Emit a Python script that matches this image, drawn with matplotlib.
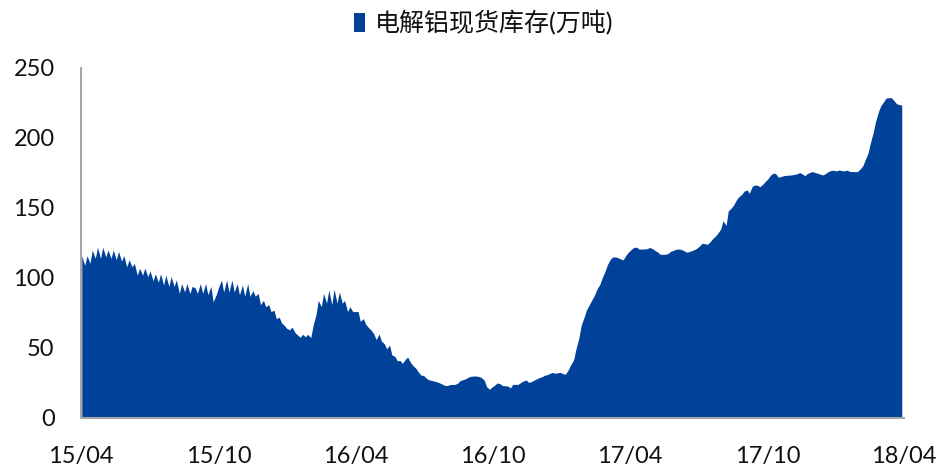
import matplotlib
matplotlib.use("Agg")
import matplotlib.pyplot as plt
import matplotlib.dates as mdates
from matplotlib.patches import Patch
import numpy as np
import pandas as pd

plt.rcParams["font.family"] = ["Lato", "Noto Sans CJK SC", "DejaVu Sans"]

# SMM spot inventory, sampled every Monday and Thursday (10k tonnes)
stock_15h1 = [
    116, 109, 116, 110.5, 120, 114, 122, 114, 122, 115, 120, 114, 120, 113,
    119, 112, 116, 108, 113, 108, 110.5, 102, 107, 102, 107, 101,
    105, 98, 103, 97, 103, 95, 102, 94, 101, 94, 98.6, 89, 96, 90, 96, 89,
    94, 93, 89, 96, 89, 96, 88, 94, 83, 88,
]
stock_15h2 = [
    93, 98.6, 90, 98.6, 90, 98.6, 90, 96, 88, 95, 87, 96, 87, 91, 87, 89,
    81, 84, 79.5, 81, 76, 77, 71, 72, 68, 66,
    64, 63, 65, 61, 59.5, 57.6, 59.8, 58, 59.8, 57.4, 66, 74, 84, 79.5, 89,
    82, 91.4, 81, 92, 82, 90, 82, 84, 76, 79.5, 76,
]
stock_16h1 = [
    76, 76, 69, 71, 67, 64.5, 63, 60, 56, 60, 55, 53, 49.5, 52, 45, 44, 41,
    41, 39, 42, 43.5, 39.5, 37.5, 35.5, 33, 30.5,
    30.5, 28.3, 27.3, 26.8, 26.4, 25.8, 25.2, 24.2, 23.3, 23.2, 23.8, 24, 24,
    25, 26.8, 27.4, 28, 29.2, 29.8, 30, 30, 29.6, 29, 27, 22.5, 20.5,
]
stock_16h2 = [
    22, 23.5, 25, 24.5, 23.2, 23, 22.9, 21.5, 24, 24, 24, 25.5, 26.4, 27.1,
    25.5, 26, 27, 28, 28.8, 29.5, 30.5, 31, 31.8, 32.6, 31.9, 32.3,
    32.6, 31.7, 31.2, 34.5, 37.9, 41.5, 49, 57, 66, 72, 77, 81, 84, 88, 92,
    95.5, 100, 105, 109.5, 113.5, 115, 115, 114.5, 113.5, 113, 116.5,
]
stock_17h1 = [
    118.5, 120.5, 121.8, 122, 120.7, 120.7, 120.7, 121, 121.8, 121, 119.8,
    118.5, 117, 116.9, 116.9, 117.5, 119, 119.8, 120.5, 120.7, 120.5, 119.5,
    118.5, 118.8, 119.5, 120.3,
    121.2, 123, 124.8, 124.5, 124, 126, 128, 130, 132, 135, 141, 137.5, 148,
    150, 152, 156, 158, 159.8, 162, 162.9, 160.5, 165.5, 166.4, 166.2, 165.2,
    167,
]
stock_17h2 = [
    168.8, 171, 173.3, 175, 174.5, 171.9, 172.5, 173.1, 173.3, 173.5, 173.6,
    174, 174.3, 175.3, 174.5, 173.1, 174.5, 175.5, 176, 175.3, 174.8, 174,
    173.6, 174.8, 176, 176.8,
    177, 176.4, 177.1, 176.8, 176.4, 177.1, 176.2, 176, 176, 176, 177.5, 180,
    184, 189, 196, 204, 211.5, 218.8, 223, 226, 228.5, 228.8, 228.8, 226.5,
    224.5, 223.8, 223.5,
]

series_name = "电解铝现货库存(万吨)"
y_ticks = [0, 50, 100, 150, 200, 250]
fill_color = "#00419a"
text_color = "#111111"

thursdays = pd.date_range("2015-04-02", periods=157, freq="7D")
mondays = pd.date_range("2015-04-06", periods=156, freq="7D")
dates = thursdays.union(mondays)
stock = np.concatenate([stock_15h1, stock_15h2, stock_16h1,
                        stock_16h2, stock_17h1, stock_17h2])

fig = plt.figure(figsize=(9.4, 4.67), dpi=100)
ax = fig.add_axes([81 / 940, 49 / 467, 823 / 940, 350 / 467])

ax.fill_between(dates, stock, 0, color=fill_color, linewidth=0)

ax.set_xlim(pd.Timestamp("2015-04-01"), pd.Timestamp("2018-04-01"))
ax.set_ylim(0, 250)
ax.set_yticks(y_ticks)
ax.xaxis.set_major_locator(mdates.MonthLocator(bymonth=[4, 10]))
ax.xaxis.set_major_formatter(mdates.DateFormatter("%y/%m"))

for side in ["top", "right"]:
    ax.spines[side].set_visible(False)
for side in ["left", "bottom"]:
    ax.spines[side].set_color("#a6a6a6")
    ax.spines[side].set_linewidth(1.5)

ax.tick_params(axis="both", length=0, labelsize=17, labelcolor=text_color)
ax.tick_params(axis="y", pad=19)
ax.tick_params(axis="x", pad=20)

handle = Patch(facecolor=fill_color, edgecolor="none")
fig.legend([handle], [series_name], loc="center",
           bbox_to_anchor=(484 / 940, 444 / 467), frameon=False,
           fontsize=18, handlelength=0.45, handleheight=0.8,
           handletextpad=0.4, labelcolor=text_color)

fig.savefig("out.png", dpi=100)
